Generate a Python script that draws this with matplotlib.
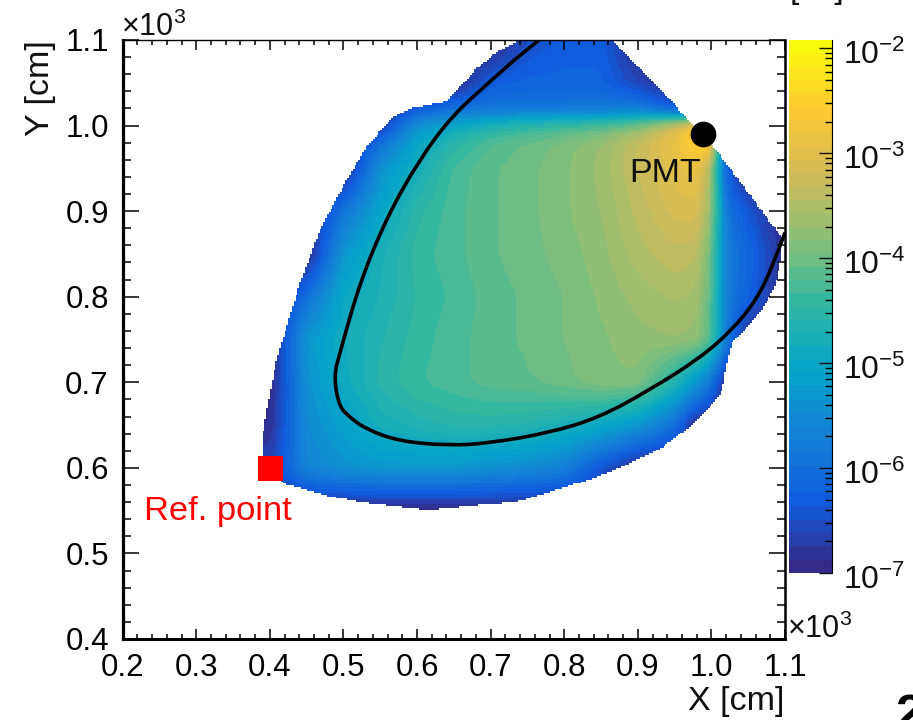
import numpy as np
import matplotlib
matplotlib.use("Agg")
import matplotlib.pyplot as plt
from matplotlib.colors import LinearSegmentedColormap, BoundaryNorm
from matplotlib.patches import PathPatch
from matplotlib.path import Path
from matplotlib.transforms import ScaledTranslation
from matplotlib.ticker import MultipleLocator, FixedLocator, NullFormatter

plt.rcParams['font.family'] = ['Liberation Sans', 'DejaVu Sans']
plt.rcParams['mathtext.fontset'] = 'custom'
plt.rcParams['mathtext.rm'] = 'Liberation Sans'
plt.rcParams['mathtext.it'] = 'Liberation Sans'

# log10(value) estimated on a non-uniform grid
grid_x = [.40, .45, .50, .55, .60, .65, .70, .75, .80, .85, .90, .95, .98, 1.00, 1.02, 1.05, 1.10]
grid_y = [.55, .60, .65, .70, .75, .80, .85, .90, .95, .98, 1.00, 1.02, 1.05, 1.10]
row_055 = [-7, -7, -7, -7, -7, -7, -7, -7, -7, -7, -7, -7, -7, -7, -7, -7, -7]
row_060 = [-6.6, -5.6, -5.4, -5.3, -5.3, -5.3, -5.4, -5.5, -5.7, -6.4, -7, -7, -7, -7, -7, -7, -7]
row_065 = [-6.9, -5.5, -5.15, -4.8, -4.65, -4.55, -4.55, -4.6, -4.75, -4.95, -5.3, -6.0, -7, -7, -7, -7, -7]
row_070 = [-7, -5.4, -4.9, -4.55, -4.35, -4.25, -4.15, -4.1, -4.0, -3.85, -3.85, -4.6, -5.3, -5.9, -7, -7, -7]
row_075 = [-7, -5.3, -4.85, -4.6, -4.4, -4.25, -4.15, -4.05, -3.95, -3.85, -3.75, -3.7, -3.75, -4.2, -5.8, -7, -7]
row_080 = [-7, -6.0, -4.95, -4.7, -4.45, -4.3, -4.15, -4.05, -3.95, -3.8, -3.65, -3.55, -3.6, -4.1, -5.8, -6.2, -7]
row_085 = [-7, -7, -5.3, -4.75, -4.4, -4.25, -4.1, -4.0, -3.9, -3.75, -3.5, -3.35, -3.4, -4.0, -5.8, -6.1, -6.9]
row_090 = [-7, -7, -5.9, -5.05, -4.5, -4.25, -4.1, -4.0, -3.85, -3.7, -3.4, -3.15, -3.1, -3.7, -5.9, -6.4, -7]
row_095 = [-7, -7, -7, -5.4, -4.8, -4.3, -4.1, -4.0, -3.85, -3.65, -3.3, -3.0, -2.85, -3.5, -6.3, -7, -7]
row_098 = [-7, -7, -7, -6.0, -5.0, -4.55, -4.2, -4.05, -3.9, -3.7, -3.3, -2.85, -2.45, -2.4, -7, -7, -7]
row_100 = [-7, -7, -7, -6.8, -5.4, -5.0, -4.7, -4.5, -4.35, -4.2, -3.9, -3.2, -2.5, -2.5, -7, -7, -7]
row_102 = [-7, -7, -7, -7, -6.4, -6.0, -5.9, -5.9, -5.9, -5.85, -5.8, -6.3, -7, -7, -7, -7, -7]
row_105 = [-7, -7, -7, -7, -7, -7, -6.3, -6.2, -6.2, -6.2, -6.6, -7, -7, -7, -7, -7, -7]
row_110 = [-7, -7, -7, -7, -7, -7, -7, -6.5, -6.3, -6.3, -7, -7, -7, -7, -7, -7, -7]
field_rows = [row_055, row_060, row_065, row_070, row_075, row_080, row_085,
              row_090, row_095, row_098, row_100, row_102, row_105, row_110]

# outline of the filled region
edge_x = [.739, .864, .967, .988, 1.007, 1.095, 1.096, 1.088, 1.069, 1.028, 1.020, 1.015, 1.001, .974, .933,
          .879, .834, .780, .735, .689, .644, .613, .531, .485, .418, .390, .390, .396, .409, .441,
          .468, .502, .531, .567, .594, .640, .658, .681, .712]
edge_y = [1.100, 1.100, 1.009, .990, .971, .870, .851, .816, .784, .746, .718, .691, .673, .650, .624,
          .601, .586, .572, .560, .557, .553, .551, .559, .566, .582, .613, .636, .668, .726, .816,
          .878, .933, .975, 1.010, 1.021, 1.028, 1.045, 1.067, 1.088]

# black curve
curve_x = [.766, .739, .700, .648, .603, .559, .522, .495, .487, .493, .504, .531, .576, .644, .699, .780,
           .848, .916, .984, 1.028, 1.061, 1.083, 1.100]
curve_y = [1.100, 1.082, 1.052, 1.012, .960, .893, .816, .734, .708, .675, .662, .645, .631, .626, .629, .641,
           .659, .691, .728, .761, .796, .835, .875]

pmt_xy = (.989, .990)
ref_xy = (.400, .600)
cbar_ticks = [1e-7, 1e-6, 1e-5, 1e-4, 1e-3, 1e-2]
cbar_labels = ['10$^{-7}$', '10$^{-6}$', '10$^{-5}$', '10$^{-4}$', '10$^{-3}$', '10$^{-2}$']
x_ticks = [.2, .3, .4, .5, .6, .7, .8, .9, 1.0, 1.1]
y_ticks = [.4, .5, .6, .7, .8, .9, 1.0, 1.1]

W, H = 913, 720
def rect(l, t, r, b):
    return [l / W, 1 - b / H, (r - l) / W, (b - t) / H]

def soften(values, sigma):
    n = int(3 * sigma) + 1
    k = np.exp(-0.5 * (np.arange(-n, n + 1) / sigma) ** 2)
    k /= k.sum()
    pad = np.pad(values, n, mode='edge')
    pad = np.apply_along_axis(lambda v: np.convolve(v, k, mode='same'), 0, pad)
    pad = np.apply_along_axis(lambda v: np.convolve(v, k, mode='same'), 1, pad)
    return pad[n:-n, n:-n]

bird = LinearSegmentedColormap.from_list('kBird', list(zip(
    [0.2082, 0.0592, 0.0780, 0.0232, 0.1802, 0.5301, 0.8186, 0.9956, 0.9764],
    [0.1664, 0.3599, 0.5041, 0.6419, 0.7178, 0.7492, 0.7328, 0.7862, 0.9832],
    [0.5293, 0.8684, 0.8385, 0.7914, 0.6425, 0.4662, 0.3499, 0.1968, 0.0539])), N=256)
levels = np.logspace(-7, np.log10(1.2e-2), 41)
norm = BoundaryNorm(levels, 256)

fig = plt.figure(figsize=(W / 100, H / 100), dpi=100)
ax = fig.add_axes(rect(122.7, 40, 785, 639))

# resample table on a fine lattice
xe = np.arange(.38, 1.1031, .0025)
ye = np.arange(.54, 1.1031, .0022)
xc, yc = (xe[:-1] + xe[1:]) / 2, (ye[:-1] + ye[1:]) / 2
table = np.array(field_rows, float)
along_x = np.array([np.interp(xc, grid_x, r) for r in table])
field = np.array([np.interp(yc, grid_y, along_x[:, j]) for j in range(len(xc))]).T
field = soften(field, 2.5)
XX, YY = np.meshgrid(xc, yc)
inside = Path(np.column_stack([edge_x, edge_y])).contains_points(
    np.column_stack([XX.ravel(), YY.ravel()])).reshape(XX.shape)
ax.pcolormesh(xe, ye, np.ma.masked_where(~inside, 10.0 ** field), cmap=bird, norm=norm,
              shading='flat', linewidth=0, rasterized=True)

# curve: read points act as control points of a smooth quadratic path
pts = np.column_stack([curve_x, curve_y])
verts, codes = [pts[0]], [Path.MOVETO]
for i in range(1, len(pts) - 1):
    end = pts[i + 1] if i == len(pts) - 2 else (pts[i] + pts[i + 1]) / 2
    verts += [pts[i], end]
    codes += [Path.CURVE3, Path.CURVE3]
ax.add_patch(PathPatch(Path(verts, codes), fill=False, edgecolor='black', lw=2.6, zorder=3))

ax.plot(*pmt_xy, 'o', color='black', ms=18.5, mew=0, zorder=4, clip_on=False)
ax.plot(*ref_xy, 's', color='#ff0000', ms=18, mew=0, zorder=4)
ax.text(.889, .934, 'PMT', fontsize=24.5, color='#111111', zorder=5)
ax.text(.229, .539, 'Ref. point', fontsize=24.8, color='#ff0000', zorder=5)

ax.set_xlim(.2, 1.1)
ax.set_ylim(.4, 1.1)
ax.xaxis.set_major_locator(FixedLocator(x_ticks))
ax.yaxis.set_major_locator(FixedLocator(y_ticks))
ax.set_xticklabels([f'{v:.1f}' for v in x_ticks])
ax.set_yticklabels([f'{v:.1f}' for v in y_ticks])
ax.xaxis.set_minor_locator(MultipleLocator(.02))
ax.yaxis.set_minor_locator(MultipleLocator(.02))
ax.tick_params(axis='x', which='major', direction='in', length=7.5, width=1.1, top=True, labelsize=22.5, pad=10)
ax.tick_params(axis='x', which='minor', direction='in', length=3.8, width=1.1, top=True)
ax.tick_params(axis='y', which='major', direction='in', length=11.5, width=1.1, right=True, labelsize=22.5, pad=10)
ax.tick_params(axis='y', which='minor', direction='in', length=5.8, width=1.1, right=True)
for side, lw in dict(left=2.3, bottom=2.2, right=1.8, top=1.0).items():
    ax.spines[side].set_linewidth(lw)

fig.text(784 / W, 1 - 710 / H, 'X [cm]', ha='right', va='baseline', fontsize=24.5, color='#111111')
fig.text(49 / W, 1 - 40 / H, 'Y [cm]', ha='right', va='baseline', rotation=90, rotation_mode='anchor',
         fontsize=24.5, color='#111111')
fig.text(121 / W, 1 - 36 / H, r'$\times$10$^{3}$', fontsize=22, color='#111111')
fig.text(787 / W, 1 - 638 / H, r'$\times$10$^{3}$', fontsize=22, color='#111111')

cax = fig.add_axes(rect(789, 40, 832, 573))
mid = np.sqrt(levels[:-1] * levels[1:])
cax.pcolormesh([0, 1], levels, mid[:, None], cmap=bird, norm=norm, linewidth=0, rasterized=True)
cax.set_yscale('log')
cax.set_ylim(1e-7, 1.2e-2)
cax.set_xticks([])
cax.yaxis.tick_right()
cax.set_yticks(cbar_ticks)
cax.set_yticklabels(cbar_labels)
cax.tick_params(axis='y', which='major', direction='in', length=9.5, width=1, labelsize=23, pad=8, colors='#111111')
cax.tick_params(axis='y', which='minor', direction='in', length=5, width=1, labelright=False)
cax.yaxis.set_minor_formatter(NullFormatter())
shift = ScaledTranslation(0, -4 / 100, fig.dpi_scale_trans)
for lab in cax.get_yticklabels():
    lab.set_transform(lab.get_transform() + shift)
for side in ('left', 'top', 'bottom'):
    cax.spines[side].set_visible(False)
cax.spines['right'].set_linewidth(.8)

# text cut off by the frame of the picture
fig.text(790 / W, 1 - (-2) / H, '[ns]', fontsize=24.5, color='#111111', va='baseline')
fig.text(895 / W, 1 - 730 / H, '2', fontsize=36, fontweight='bold', color='black', va='baseline')

fig.savefig('out.png', dpi=100, facecolor='white')
